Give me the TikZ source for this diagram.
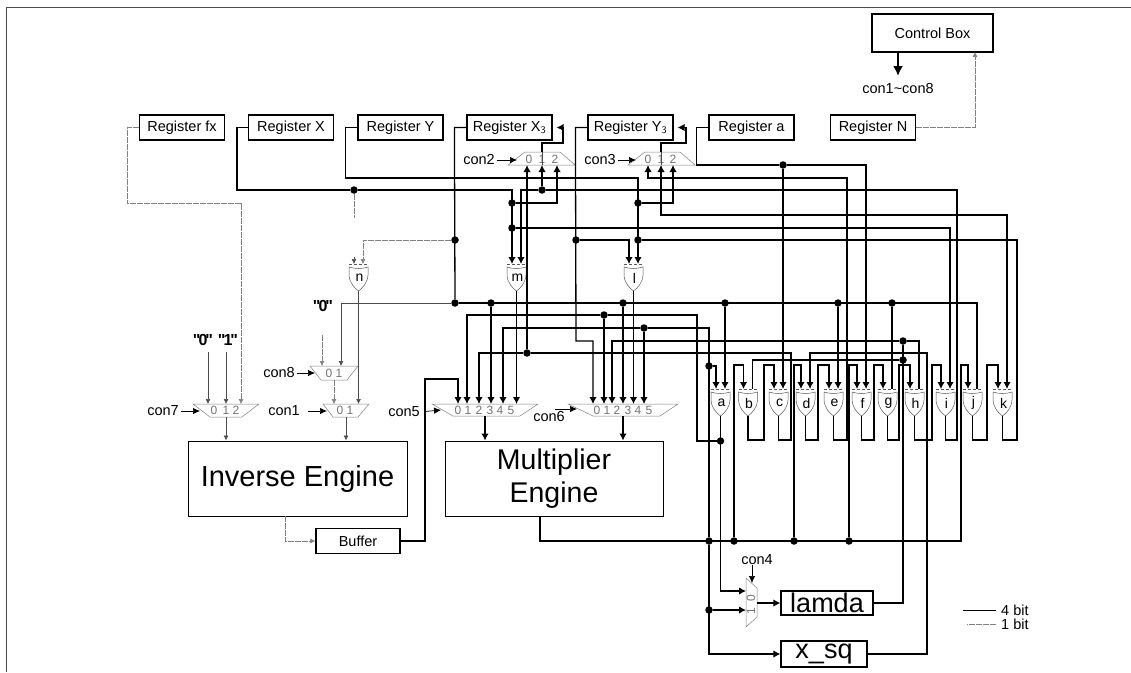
\documentclass[tikz,border=0pt]{standalone}
\usepackage{fontspec}
\setmainfont{Liberation Sans}
\newfontfamily\quotefont{Liberation Sans}
\usetikzlibrary{arrows.meta}
\newcommand{\quoted}[1]{\char34\kern-2pt #1\kern-2pt\char34}
\tikzset{
    regbox/.style={rectangle, draw, line width=1.2pt, minimum width=85pt, minimum height=25pt,
                   inner sep=0pt, font=\fontsize{14.5}{16}\selectfont},
    bigbox/.style={rectangle, draw, line width=1pt, inner sep=0pt, align=center},
    txt/.style={inner sep=0pt, font=\fontsize{14.5}{16}\selectfont},
    muxlab/.style={inner sep=0pt, text=black!55, font=\fontsize{12}{12}\selectfont},
    quotelab/.style={inner sep=0pt, font=\quotefont\bfseries\fontsize{16}{16}\selectfont},
    dot/.style={circle, fill, inner sep=0pt, minimum size=7.5pt},
    wire/.style={line width=1.3pt},
    onebit/.style={draw=black!50, line width=0.6pt, dash pattern=on 6pt off 1pt},
    thinw/.style={draw=black!70, line width=0.7pt},
    muxline/.style={draw=black!50, line width=0.5pt},
    gateline/.style={draw=black!65, line width=0.5pt},
    arr/.style={-{Latex[length=7pt,width=7.5pt]}},
    arrs/.style={-{Latex[length=5pt,width=5pt]}},
    ctl/.style={line width=0.7pt, -{Latex[length=7pt,width=6.5pt]}, shorten <=2pt},
    xorgate/.pic={
        \draw[gateline] (-9.5,2) .. controls (-4,4) and (4,4) .. (9.5,2) -- (9.5,10)
            .. controls (9,18) and (4,23) .. (0,26) .. controls (-4,23) and (-9,18) .. (-9.5,10) -- cycle;
        \draw[gateline, densely dashed] (-9.5,-0.5) -- (9.5,-0.5);
        \node[inner sep=0pt, font=\fontsize{14}{14}\selectfont] (-t) at (1,13) {#1};
        \coordinate (-l) at (-4.5,-1);
        \coordinate (-r) at (4.5,-1);
        \coordinate (-o) at (0,26);
    },
}
\begin{document}
\begin{tikzpicture}[x=1pt, y=-1pt]
    \useasboundingbox (0,0) rectangle (1131,672);
    \draw[line width=0.9pt, draw=black!70] (6,672) -- (6,7) -- (1131,7);

    \node[regbox, minimum width=121pt, minimum height=38pt] (ctrl) at (932.5,33) {Control Box};
    \node[txt] (lconall) at (898,89) {con1\textasciitilde con8};
    \node[regbox] (regfx) at (182,127.5) {Register fx};
    \node[regbox] (regX) at (291,127.5) {Register X};
    \node[regbox] (regY) at (400.5,127.5) {Register Y};
    \node[regbox] (regXt) at (509.5,127.5) {Register X$_{\mathsf{3}}$};
    \node[regbox] (regYt) at (630.5,127.5) {Register Y$_{\mathsf{3}}$};
    \node[regbox] (rega) at (751.5,127.5) {Register a};
    \node[regbox] (regN) at (873,127.5) {Register N};

    \node[bigbox, minimum width=219pt, minimum height=75pt, font=\fontsize{29}{33}\selectfont] (inv) at (297.5,478.5) {Inverse Engine};
    \node[bigbox, minimum width=218pt, minimum height=75pt, font=\fontsize{28.5}{33}\selectfont] (mul) at (554,478.5) {Multiplier\\Engine};
    \node[regbox, minimum width=84pt, minimum height=25pt] (buf) at (358,541) {Buffer};
    \node[bigbox, line width=1.2pt, minimum width=92pt, minimum height=24pt, font=\fontsize{27}{27}\selectfont] (lam) at (827,603) {lamda};
    \node[bigbox, line width=1.2pt, minimum width=86pt, minimum height=26pt, font=\fontsize{27}{27}\selectfont] (xsq) at (824,654) {\raisebox{-2pt}{x\_sq}};

    \pic (gn) at (358.5,265) {xorgate=n};
    \pic (gm) at (516.5,265) {xorgate=m};
    \pic (gl) at (633.5,265) {xorgate=l};
    \foreach \g/\x in {a/720.5,b/748,c/778.5,d/805.5,e/833.5,f/861.5,g/887.5,h/914.5,i/945.5,j/972.5,k/1002.5}
        \pic (g\g) at (\x,390) {xorgate=\g};

    % multiplexers
    \draw[muxline] (508,165) -- (525,152) -- (560,152) -- (575,165) -- cycle;
    \draw[muxline] (628,165) -- (645,152) -- (680,152) -- (695,165) -- cycle;
    \draw[muxline] (193,404) -- (210,417) -- (242,417) -- (259,404) -- cycle;
    \draw[muxline] (310,366) -- (321,380) -- (347,380) -- (358,366) -- cycle;
    \draw[muxline] (323,404) -- (333,417) -- (358,417) -- (369,404) -- cycle;
    \draw[muxline] (432,404) -- (453,416) -- (520,416) -- (538,404) -- cycle;
    \draw[muxline] (568,404) -- (593,416) -- (660,416) -- (678,404) -- cycle;
    \draw[muxline] (746,578) -- (757,588) -- (757,617) -- (746,627) -- cycle;
    \foreach \i/\x/\t in {0/527/529,1/542/542,2/557/555} {
        \coordinate (mctwoin\i) at (\x,165);
        \node[muxlab] (mctwolab\i) at (\t,159) {\i};
    }
    \foreach \i/\x/\t in {0/648/648,1/661/661,2/673/673} {
        \coordinate (mcthreein\i) at (\x,165);
        \node[muxlab] (mcthreelab\i) at (\t,159) {\i};
    }
    \foreach \i/\x/\t in {0/208/214,1/226/226,2/241/236} {
        \coordinate (mcsevenin\i) at (\x,404);
        \node[muxlab] (mcsevenlab\i) at (\t,410) {\i};
    }
    \foreach \i/\x/\t in {0/322/329,1/341/339} {
        \coordinate (mceightin\i) at (\x,366);
        \node[muxlab] (mceightlab\i) at (\t,373) {\i};
    }
    \foreach \i/\x/\t in {0/334/340,1/358.5/350} {
        \coordinate (mconein\i) at (\x,404);
        \node[muxlab] (mconelab\i) at (\t,410) {\i};
    }
    \foreach \i/\x/\t in {0/458/458,1/467/468,2/479/479,3/491/490,4/503/500,5/516.5/511} {
        \coordinate (mcfivein\i) at (\x,404);
        \node[muxlab] (mcfivelab\i) at (\t,410) {\i};
    }
    \foreach \i/\x/\t in {0/593/597,1/604/607,2/612/617,3/623/628,4/633.5/638,5/644/649} {
        \coordinate (mcsixin\i) at (\x,404);
        \node[muxlab] (mcsixlab\i) at (\t,410) {\i};
    }
    \node[muxlab, rotate=90] (mcfourlab0) at (751,598) {0};
    \node[muxlab, rotate=90] (mcfourlab1) at (751,611) {1};
    \coordinate (mcfourin0) at (746,591);
    \coordinate (mcfourin1) at (746,610);
    \coordinate (mcfourout) at (757,603);
    \coordinate (mcfourctl) at (752,583);
    \coordinate (mctwoout) at (542,152);
    \coordinate (mcthreeout) at (661,152);
    \coordinate (mcsevenout) at (226,417);
    \coordinate (mceightout) at (334,380);
    \coordinate (mconeout) at (346,417);
    \coordinate (mcfiveout) at (485,416);
    \coordinate (mcsixout) at (623,416);
    \coordinate (ctrlin) at (975,52);
    \coordinate (ctrlout) at (898,52);
    \coordinate (mulout) at (540,516);
    \coordinate (invout) at (285,516);

    % junctions
    \node[dot] (jx) at (354,190) {};
    \node[dot] (jmA) at (512,203) {};
    \node[dot] (jmB) at (512,228) {};
    \node[dot] (jc) at (542,190) {};
    \node[dot] (jlA) at (638,203) {};
    \node[dot] (jlB) at (638,240) {};
    \node[dot] (jy) at (576,240) {};
    \node[dot] (jr) at (783,165) {};
    \node[dot] (jxt) at (455,240) {};
    \node[dot] (jb) at (455,303) {};
    \node[dot] (jbA) at (491,303) {};
    \node[dot] (jbB) at (623,303) {};
    \node[dot] (jbC) at (725,303) {};
    \node[dot] (jbD) at (838,303) {};
    \node[dot] (jbE) at (892,303) {};
    \node[dot] (jf) at (604,315) {};
    \node[dot] (jq) at (644,328) {};
    \node[dot] (js) at (527,353) {};
    \node[dot] (jao) at (720.5,441) {};
    \node[dot] (jms) at (709,541) {};
    \node[dot] (jmb) at (734,541) {};
    \node[dot] (jmd) at (794,541) {};
    \node[dot] (jmf) at (849,541) {};
    \node[dot] (jh) at (709,366) {};
    \node[dot] (jlb) at (709,610) {};
    \node[dot] (jtA) at (903,341) {};
    \node[dot] (jtB) at (903,360) {};

    % 4 bit wires
    \draw[wire, arr] (regX.west) -- ++(-11,0) |- (jx) -| (gm-l);
    \draw[wire, arr] (jmA) -| (mctwoin2);
    \draw[wire, arr] (jmB) -| (gi-r);
    \draw[wire, arr] (regY.west) -- ++(-12,0) |- (638,178) -- (gl-r);
    \draw[wire, arr] (jlA) -| (mcthreein2);
    \draw[wire] (regXt.west) -- ++(-12,0) -- (jb);
    \draw[wire] (jb) -| (gj-r);
    \draw[wire, arr] (jbA) -- (mcfivein3);
    \draw[wire, arr] (jbB) -- (mcsixin3);
    \draw[wire, arr] (jbC) -- (ga-r);
    \draw[wire, arr] (jbD) -- (ge-r);
    \draw[wire] (jbE) -- (gg-r);
    \draw[wire, arr] (regYt.west) -- ++(-12,0) -- (576,341) -| (mcsixin0);
    \draw[wire, arr] (jy) -| (gl-l);
    \draw[wire, arr] (rega.west) -- ++(-12,0) |- (jr) -| (gf-r);
    \draw[wire, arr] (jr) -- (gc-r);
    \draw[wire, arr] (ge-o) |- (847,440) -- (847,178) -| (mcthreein0);
    \draw[wire] (gi-o) |- (957,440) -- (957,190) -- (jc);
    \draw[wire, arr] (jc) -- (mctwoin1);
    \draw[wire, arr] (jc) -| (gm-r);
    \draw[wire, {Latex[length=7pt,width=7.5pt]}-{Latex[length=7pt,width=7.5pt]}] (mcthreein1) |- (1007,215) -- (gk-r);
    \draw[wire] (gk-o) |- (1017,440) |- (jlB);
    \draw[wire, arr] (ga-o) |- (mcfourin0);
    \draw[wire] (jao) -- (697,441) |- (jf);
    \draw[wire, arr] (jf) -| (mcfivein1);
    \draw[wire, arr] (jf) -- (mcsixin1);
    \draw[wire, arr] (mulout) |- (961,541) -- (961,365) -| (gj-l);
    \draw[wire] (jms) -- (709,328) -- (jq);
    \draw[wire, arr] (jq) -| (mcfivein4);
    \draw[wire, arr] (jq) -- (mcsixin5);
    \draw[wire, arr] (jms) |- (xsq.west);
    \draw[wire, arr] (jh) -| (ga-l);
    \draw[wire, arr] (jlb) -- (mcfourin1);
    \foreach \j/\x/\g in {jmb/734/b,jmd/794/d,jmf/849/f}
        \draw[wire, arr] (\j) -- (\x,365) -| (g\g-l);
    \foreach \a/\x/\b in {b/764/c,d/818/e,f/874/g,g/899/h,h/932/i,j/987/k}
        \draw[wire, arr] (g\a-o) |- (\x,440) -- (\x,365) -| (g\b-l);
    \draw[wire] (gc-o) |- (791,440) |- (js);
    \draw[wire, arr] (js) -| (mcfivein2);
    \draw[wire, arr] (js) -- (mctwoin0);
    \draw[wire, arr] (xsq.east) -| (927,353) -| (gd-r);
    \draw[wire] (lam.east) -| (jtA);
    \draw[wire] (jtA) -- (jtB);
    \draw[wire] (jtA) -| (gh-r);
    \draw[wire, arr] (jtA) -| (mcsixin2);
    \draw[wire] (jtB) -| (gb-r);
    \draw[wire, arr] (buf.east) -| (425,379) -| (mcfivein0);
    \draw[wire, arr] (gm-o) -- (mcfivein5);
    \draw[wire, arr] (gl-o) -- (mcsixin4);
    \draw[wire, arr] (mcfiveout) -- (mcfiveout |- mul.north);
    \draw[wire, arr] (mcsixout) -- (mcsixout |- mul.north);
    \draw[wire, arr] (mcfourout) -- (lam.west);
    \draw[thinw] (mctwoout) -- (mctwoin1);
    \draw[wire, arr, shorten >=4pt] (mctwoout) |- (563,143) |- (regXt.east);
    \draw[thinw] (mcthreeout) -- (mcthreein1);
    \draw[wire, arr, shorten >=4pt] (mcthreeout) |- (686,143) |- (regYt.east);
    \draw[line width=2.2pt, -{Latex[length=10pt,width=10pt]}] (ctrlout) -- ++(0,24);

    % 1 bit wires
    \draw[onebit, arrs] (regfx.west) -- ++(-12,0) |- (241,203) -- (mcsevenin2);
    \draw[onebit, arrs] (regN.east) -| (ctrlin);
    \draw[onebit] (jx) -- ++(0,28);
    \draw[thinw, arrs] (gn-l) ++(0,-7) -- (gn-l);
    \draw[onebit, arrs] (jxt) -| (gn-r);
    \draw[thinw, arrs] (jb) -| (mceightin1);
    \draw[thinw, arrs] (gn-o) -- (mconein1);
    \draw[onebit, arrs] (322,335) -- (mceightin0);
    \draw[onebit, arrs] (mceightout) -- (mconein0);
    \draw[thinw, arrs] (mcsevenout) -- (mcsevenout |- inv.north);
    \draw[thinw, arrs] (mconeout) -- (mconeout |- inv.north);
    \draw[onebit, arrs] (invout) |- (buf.west);

    % labels and control inputs
    \node[quotelab] (tzero) at (203,340) {\quoted{0}};
    \node[quotelab] (tone) at (228,340) {\quoted{1}};
    \node[quotelab] (tzerob) at (323,306) {\quoted{0}};
    \draw[thinw, arrs] (208,352) -- (mcsevenin0);
    \draw[thinw, arrs] (226,352) -- (mcsevenin1);
    \node[txt] (lcontwo) at (479,160) {con2};
    \node[txt] (lconthree) at (600,160) {con3};
    \node[txt] (lconfour) at (757,560) {con4};
    \node[txt] (lconfive) at (404,412) {con5};
    \node[txt] (lconsix) at (549,417) {con6};
    \node[txt] (lconseven) at (163,411) {con7};
    \node[txt] (lconeight) at (279,373) {con8};
    \node[txt] (lconone) at (284,411) {con1};
    \coordinate (tipfive) at (441,410);
    \coordinate (tipsixa) at (555,409);
    \coordinate (tipsix) at (577,409);
    \draw[ctl] (lcontwo.east) -- (517,160);
    \draw[ctl] (lconthree.east) -- (636,160);
    \draw[ctl] (lconseven.east) -- (200,411);
    \draw[ctl] (lconeight.east) -- (315,373);
    \draw[ctl, shorten <=8pt] (lconone.east) -- (327,411);
    \draw[ctl, shorten <=5pt] (lconfive.east) -- (tipfive);
    \draw[ctl, shorten <=0pt] (tipsixa) -- (tipsix);
    \draw[line width=0.7pt, -{Latex[length=7pt,width=6.5pt]}] (lconfour.south -| mcfourctl) -- (mcfourctl);

    \node[txt, anchor=west] (lfour) at (1001,610) {4 bit};
    \node[txt, anchor=west] (lonebit) at (1001,624) {1 bit};
    \draw[line width=0.7pt] (lfour.west) ++(-5,0) -- ++(-33,0);
    \draw[onebit] (lonebit.west) ++(-5,0) -- ++(-29,0);
\end{tikzpicture}
\end{document}
